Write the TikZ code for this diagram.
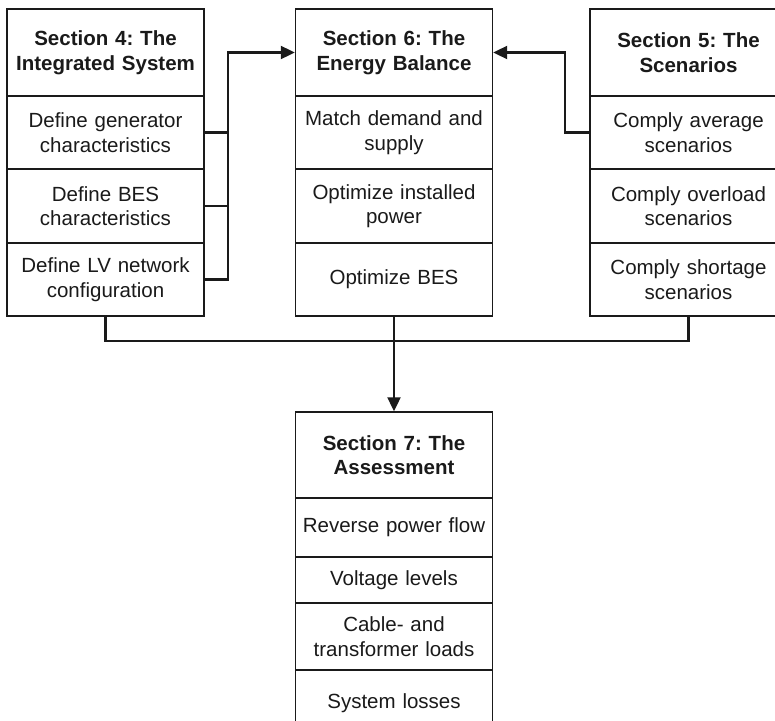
\documentclass[tikz,border=0pt]{standalone}
\usepackage{fontspec}
\setmainfont{Liberation Sans}
\usetikzlibrary{arrows.meta,calc}
\definecolor{ink}{HTML}{1A1A1A}
\frenchspacing
\begin{document}
\begin{tikzpicture}[x=1pt,y=-1pt,
  cell/.style={draw=ink,line width=1.4pt,minimum width=197pt,inner sep=0pt,
    text width=190pt,align=center,text=ink,
    font=\fontsize{20.5}{24.5}\selectfont},
  head/.style={cell,font=\fontsize{20.5}{24.5}\selectfont\bfseries},
  conn/.style={draw=ink,line width=2.1pt},
  arr/.style={conn,-{Triangle[length=14pt,width=13pt]}}]
\path[use as bounding box] (0,0) rectangle (775,720);
\clip (0,0) rectangle (775,720);
\fill[white] (0,0) rectangle (775,720);
% left column
\node[head,minimum height=87pt] (L0) at (105.5,52.5) {Section 4: The\\Integrated System};
\node[cell,minimum height=73pt] (L1) at (105.5,132.5) {Define generator\\characteristics};
\node[cell,minimum height=74pt] (L2) at (105.5,206) {Define BES\\characteristics};
\node[cell,minimum height=73pt] (L3) at (105.5,279.5) {Define LV network\\configuration};
% middle column
\node[head,minimum height=87pt] (M0) at (394,52.5) {Section 6: The\\Energy Balance};
\node[cell,minimum height=73pt] (M1) at (394,132.5) {Match demand and\\supply};
\node[cell,minimum height=74pt] (M2) at (394,206) {Optimize installed\\power};
\node[cell,minimum height=73pt] (M3) at (394,279.5) {Optimize BES};
% right column
\node[head,minimum height=87pt] (R0) at (688.5,52.5) {Section 5: The\\Scenarios};
\node[cell,minimum height=73pt] (R1) at (688.5,132.5) {Comply average\\scenarios};
\node[cell,minimum height=74pt] (R2) at (688.5,206) {Comply overload\\scenarios};
\node[cell,minimum height=73pt] (R3) at (688.5,279.5) {Comply shortage\\scenarios};
% assessment
\node[head,minimum height=86pt] (A0) at (394,455) {Section 7: The\\Assessment};
\node[cell,minimum height=59pt] (A1) at (394,527.5) {Reverse power flow};
\node[cell,minimum height=46pt] (A2) at (394,580) {Voltage levels};
\node[cell,minimum height=67pt] (A3) at (394,636.5) {Cable- and\\transformer loads};
\node[cell,minimum height=66pt] (A4) at (394,703) {System losses};
% connectors
\coordinate (jL) at (228,0);
\coordinate (jR) at (565,0);
\coordinate (bus) at (0,341);
\draw[conn] (L1.east) -- (L1.east -| jL);
\draw[conn] (L2.east) -- (L2.east -| jL);
\draw[arr] (L3.east) -| (jL |- M0.west) -- (M0.west);
\draw[arr] (R1.west) -| (jR |- M0.east) -- (M0.east);
\draw[conn] (L3.south) -- (L3.south |- bus) -- (R3.south |- bus) -- (R3.south);
\draw[arr] (M3.south) -- (A0.north);
\end{tikzpicture}
\end{document}
